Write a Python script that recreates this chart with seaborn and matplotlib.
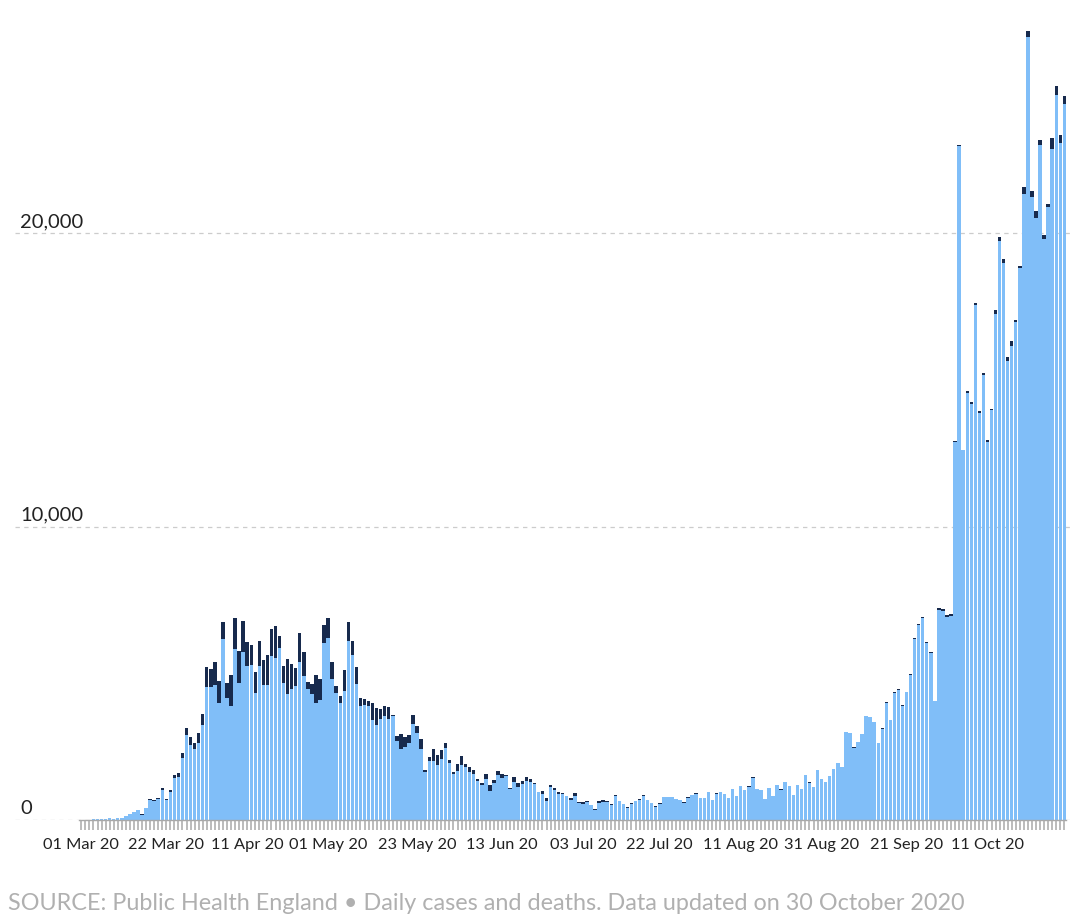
import numpy as np
import pandas as pd
import seaborn as sns
import matplotlib.pyplot as plt

# daily UK cases and deaths, 01 Mar 2020 - 30 Oct 2020
cases_mar = [13, 4, 11, 34, 29, 48, 45, 69, 43, 62, 77, 134, 208, 270, 335, 176, 407, 676, 643, 714,
             1035, 665, 967, 1427, 1452, 2129, 2885, 2546, 2433, 2619, 3250]
cases_apr = [4520, 4520, 4610, 3980, 6160, 4150, 3870, 5820, 4660, 5710, 5233, 5288, 4342, 5252, 4603,
             4617, 5599, 5525, 5850, 4676, 4301, 4451, 4583, 5386, 4913, 4463, 4309, 3996, 4076, 6032]
cases_may = [6201, 4806, 4339, 3985, 4406, 6111, 5614, 4649, 3896, 3923, 3877, 3403, 3242, 3446, 3560,
             3451, 3534, 2684, 2412, 2472, 2615, 3287, 2959, 2405, 1625, 2004, 2013, 1887, 2095, 2445, 1936]
cases_jun = [1570, 1653, 1871, 1805, 1650, 1557, 1326, 1205, 1387, 1003, 1266, 1541, 1425, 1514, 1056,
             1279, 1115, 1218, 1346, 1295, 1221, 958, 874, 653, 1118, 1006, 890, 901, 815, 689]
cases_jul = [829, 576, 544, 624, 516, 352, 581, 630, 612, 512, 820, 650, 530, 420, 538, 640, 687, 827,
             672, 580, 445, 560, 769, 768, 767, 716, 685, 581, 763, 846, 880]
cases_aug = [743, 744, 938, 670, 892, 950, 871, 758, 1062, 816, 1148, 1009, 1140, 1441, 1062, 1030, 713,
             1089, 812, 1182, 1033, 1288, 1150, 853, 1184, 1048, 1522, 1276, 1108, 1715, 1406]
cases_sep = [1295, 1508, 1735, 1940, 1813, 2988, 2948, 2460, 2659, 2919, 3539, 3497, 3330, 2621, 3105,
             3991, 3395, 4322, 4422, 3899, 4368, 4926, 6178, 6634, 6874, 6042, 5693, 4044, 7143, 7108]
cases_oct = [6914, 6968, 12872, 22961, 12594, 14542, 14162, 17540, 13864, 15166, 12872, 13972, 17234,
             19724, 18980, 15650, 16171, 16982, 18804, 21331, 26688, 21242, 20530, 23012, 19790, 20890,
             22885, 24701, 23065, 24405]

deaths_mar = [0, 0, 0, 0, 1, 1, 0, 1, 1, 2, 2, 2, 1, 10, 14, 20, 16, 33, 40, 33,
              60, 40, 65, 120, 140, 160, 260, 270, 190, 330, 360]
deaths_apr = [680, 640, 770, 760, 600, 534, 1080, 1050, 1090, 1080, 820, 680, 690, 850, 850,
              1010, 900, 1070, 430, 570, 1200, 850, 590, 980, 820, 250, 320, 930, 740, 600]
deaths_may = [680, 590, 230, 250, 690, 650, 480, 570, 260, 190, 170, 600, 590, 330, 330, 386,
              60, 180, 510, 340, 270, 300, 230, 340, 90, 130, 410, 320, 290, 170, 110]
deaths_jun = [80, 260, 300, 110, 150, 140, 57, 45, 193, 182, 95, 140, 130, 30, 30, 170, 130, 100,
              120, 95, 30, 12, 125, 90, 90, 75, 60, 25, 18, 50]
deaths_jul = [85, 40, 60, 30, 12, 10, 50, 48, 30, 20, 40, 8, 6, 40, 25, 20, 30, 15, 5, 5, 25, 20,
              15, 30, 12, 4, 3, 30, 20, 10, 30]
deaths_aug = [8, 5, 1, 20, 14, 12, 13, 3, 8, 3, 12, 14, 16, 11, 10, 5, 3, 12, 16, 6, 12, 2, 3, 2,
              16, 12, 12, 9, 12, 1, 1]
deaths_sep = [3, 3, 10, 6, 5, 2, 3, 32, 8, 14, 6, 9, 5, 9, 27, 20, 21, 27, 27, 18, 11, 37, 37, 40,
              34, 34, 17, 13, 71, 71]
deaths_oct = [59, 66, 49, 33, 19, 76, 70, 77, 87, 81, 65, 50, 143, 137, 138, 136, 150, 67, 80, 241,
              191, 189, 224, 174, 151, 102, 367, 310, 280, 274]

label_dates = ["2020-03-01", "2020-03-22", "2020-04-11", "2020-05-01", "2020-05-23", "2020-06-13",
               "2020-07-03", "2020-07-22", "2020-08-11", "2020-08-31", "2020-09-21", "2020-10-11"]
y_ticks = [0, 10000, 20000]
source = "SOURCE: Public Health England \u2022 Daily cases and deaths. Data updated on 30 October 2020"

cases = (cases_mar + cases_apr + cases_may + cases_jun + cases_jul + cases_aug
         + cases_sep + cases_oct)
deaths = (deaths_mar + deaths_apr + deaths_may + deaths_jun + deaths_jul + deaths_aug
          + deaths_sep + deaths_oct)
n = len(cases)
dates = pd.date_range("2020-03-01", periods=n, freq="D")
df = pd.DataFrame({"day": np.arange(n), "cases": cases, "deaths": deaths})
df["total"] = df["cases"] + df["deaths"]

light_blue = "#80bef8"
navy = "#172a4d"

sns.set_theme(style="white")
plt.rcParams["font.family"] = ["Lato", "DejaVu Sans"]

fig = plt.figure(figsize=(10.8, 9.21), dpi=100)
ax = fig.add_axes([15 / 1080, 101 / 921, 1057 / 1080, 820 / 921])

# deaths sit on top of cases: draw the total in navy, then cases over it
sns.barplot(data=df, x="day", y="total", color=navy, saturation=1, width=0.85,
            errorbar=None, linewidth=0, ax=ax, zorder=2)
sns.barplot(data=df, x="day", y="cases", color=light_blue, saturation=1, width=0.85,
            errorbar=None, linewidth=0, ax=ax, zorder=3)

ax.set_xlim(-16.4, n + 0.9)
ax.set_ylim(0, 27946)

for v in y_ticks:
    ax.axhline(v, color="#cccccc", lw=0.9, dashes=(3.5, 3.5), zorder=0)
    ax.annotate(f"{v:,}", xy=(0.005, v), xycoords=("axes fraction", "data"),
                xytext=(0, 4.5), textcoords="offset points", va="baseline", ha="left",
                fontsize=14.5, color="#222222")

for s in ["top", "left", "right"]:
    ax.spines[s].set_visible(False)
ax.spines["bottom"].set_bounds(-0.5, n - 0.5)
ax.spines["bottom"].set_color("#a8a8a8")
ax.spines["bottom"].set_linewidth(1.0)
ax.spines["bottom"].set_zorder(4)

label_pos = [dates.get_loc(pd.Timestamp(d)) for d in label_dates]
ax.set_xticks(label_pos)
ax.set_xticklabels([pd.Timestamp(d).strftime("%d %b %y") for d in label_dates])
ax.set_xticks(np.arange(n), minor=True)
ax.tick_params(axis="x", which="both", bottom=True, length=7.2, width=1.1, color="#a8a8a8",
               pad=6, labelsize=11.8, labelcolor="#222222")
ax.set_yticks([])
ax.set_xlabel("")
ax.set_ylabel("")

fig.text(8 / 1080, 11 / 921, source, fontsize=16.8, color="#b0b0b0", va="baseline", ha="left")

fig.savefig("out.png", dpi=100)
